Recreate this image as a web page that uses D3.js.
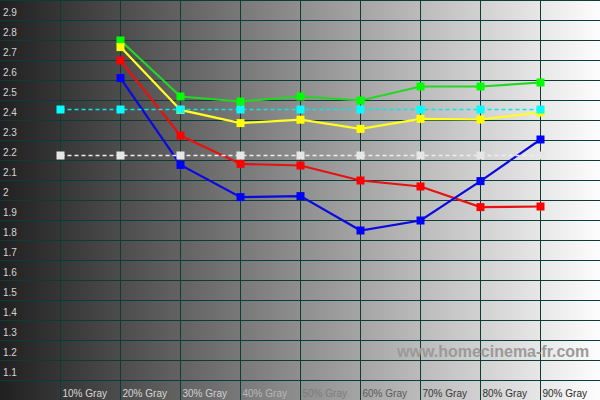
<!DOCTYPE html>
<html>
<head>
<meta charset="utf-8">
<script src="https://cdn.jsdelivr.net/npm/d3@7"></script>
<style>
  body { margin: 0; background: #fff; }
  text { font-family: "Liberation Sans", Arial, sans-serif; }
</style>
</head>
<body>
<script>
// data
var levels = [10, 20, 30, 40, 50, 60, 70, 80, 90];
var xLabels = ["10% Gray", "20% Gray", "30% Gray", "40% Gray", "50% Gray",
               "60% Gray", "70% Gray", "80% Gray", "90% Gray"];
var measuredLevels = [20, 30, 40, 50, 60, 70, 80, 90];
var green  = [2.76, 2.48, 2.455, 2.48, 2.46, 2.53, 2.53, 2.55];
var yellow = [2.727, 2.413, 2.347, 2.364, 2.318, 2.368, 2.365, 2.40];
var red    = [2.66, 2.285, 2.143, 2.135, 2.06, 2.03, 1.927, 1.93];
var blue   = [2.572, 2.138, 1.977, 1.982, 1.81, 1.86, 2.057, 2.265];
var cyanTarget  = [2.415, 2.415, 2.415, 2.415, 2.415, 2.415, 2.415, 2.415, 2.415];
var whiteTarget = [2.185, 2.185, 2.185, 2.185, 2.185, 2.185, 2.185, 2.185, 2.185];
var yTicks = [2.9, 2.8, 2.7, 2.6, 2.5, 2.4, 2.3, 2.2, 2.1, 2.0,
              1.9, 1.8, 1.7, 1.6, 1.5, 1.4, 1.3, 1.2, 1.1];
var yGridValues = [3.0].concat(yTicks);

var xLabelColors = ["#d8d8d8", "#d8d8d8", "#d0d0d0", "#b8b8b8", "#7c7c7c",
                    "#5a5a5a", "#383838", "#303030", "#2a2a2a"];

var W = 600, H = 400;

var svg = d3.select("body")
    .append("svg")
    .attr("width", W)
    .attr("height", H)
    .style("display", "block");

var defs = svg.append("defs");
var grad = defs.append("linearGradient")
    .attr("id", "bg")
    .attr("x1", "0%").attr("x2", "100%")
    .attr("y1", "0%").attr("y2", "0%");
grad.append("stop").attr("offset", "0%").attr("stop-color", "#202020");
grad.append("stop").attr("offset", "100%").attr("stop-color", "#fdfdfd");

svg.append("rect")
    .attr("width", W)
    .attr("height", H)
    .attr("fill", "url(#bg)");

var x = d3.scaleLinear().domain([10, 90]).range([60.5, 540.5]);
var y = d3.scaleLinear().domain([1.1, 2.9]).range([372.5, 12.5]);

// grid: horizontal lines sit just under each label
svg.append("g").selectAll("line")
    .data(yGridValues)
    .enter().append("line")
    .attr("x1", 0).attr("x2", W)
    .attr("y1", function(d) { return y(d) + 8; })
    .attr("y2", function(d) { return y(d) + 8; })
    .attr("stroke", "#0d3b38")
    .attr("stroke-width", 1);

svg.append("g").selectAll("line")
    .data(levels)
    .enter().append("line")
    .attr("x1", function(d) { return x(d); })
    .attr("x2", function(d) { return x(d); })
    .attr("y1", 0).attr("y2", H)
    .attr("stroke", "#0d3b38")
    .attr("stroke-width", 1);

// y labels
svg.append("g").selectAll("text")
    .data(yTicks)
    .enter().append("text")
    .attr("x", 3)
    .attr("y", function(d) { return y(d) + 3.5; })
    .style("font-size", "10px")
    .attr("fill", "#d4d4d4")
    .text(function(d) { return d3.format("")(+d.toFixed(1)); });

// x labels
svg.append("g").selectAll("text")
    .data(levels)
    .enter().append("text")
    .attr("x", function(d) { return x(d) + 2; })
    .attr("y", 397)
    .style("font-size", "10px")
    .attr("fill", function(d, i) { return xLabelColors[i]; })
    .text(function(d, i) { return xLabels[i]; });

// watermark
svg.append("text")
    .attr("x", 397)
    .attr("y", 357)
    .style("font-size", "16px")
    .style("font-weight", "bold")
    .attr("fill", "#9a9a9a")
    .text("www.homecinema-fr.com");

var line = d3.line()
    .x(function(d) { return x(d[0]); })
    .y(function(d) { return y(d[1]); });

function drawSeries(lv, values, lineColor, markColor, dashed) {
    var pts = lv.map(function(l, i) { return [l, values[i]]; });
    var g = svg.append("g");
    g.append("path")
        .datum(pts)
        .attr("d", line)
        .attr("fill", "none")
        .attr("stroke", lineColor)
        .attr("stroke-width", dashed ? 1.3 : 2.2)
        .attr("stroke-dasharray", dashed ? "4,3" : null);
    g.selectAll("rect")
        .data(pts)
        .enter().append("rect")
        .attr("x", function(d) { return x(d[0]) - 4; })
        .attr("y", function(d) { return y(d[1]) - 4; })
        .attr("width", 8)
        .attr("height", 8)
        .attr("fill", markColor);
}

drawSeries(measuredLevels, green, "#22d822", "#00ff00", false);
drawSeries(measuredLevels, yellow, "#ffff22", "#ffff00", false);
drawSeries(measuredLevels, red, "#e81010", "#ff0000", false);
drawSeries(measuredLevels, blue, "#0a0ae0", "#0000ff", false);
drawSeries(levels, cyanTarget, "#00eaea", "#00ffff", true);
drawSeries(levels, whiteTarget, "#eeeeee", "#e6e6e6", true);
</script>
</body>
</html>
